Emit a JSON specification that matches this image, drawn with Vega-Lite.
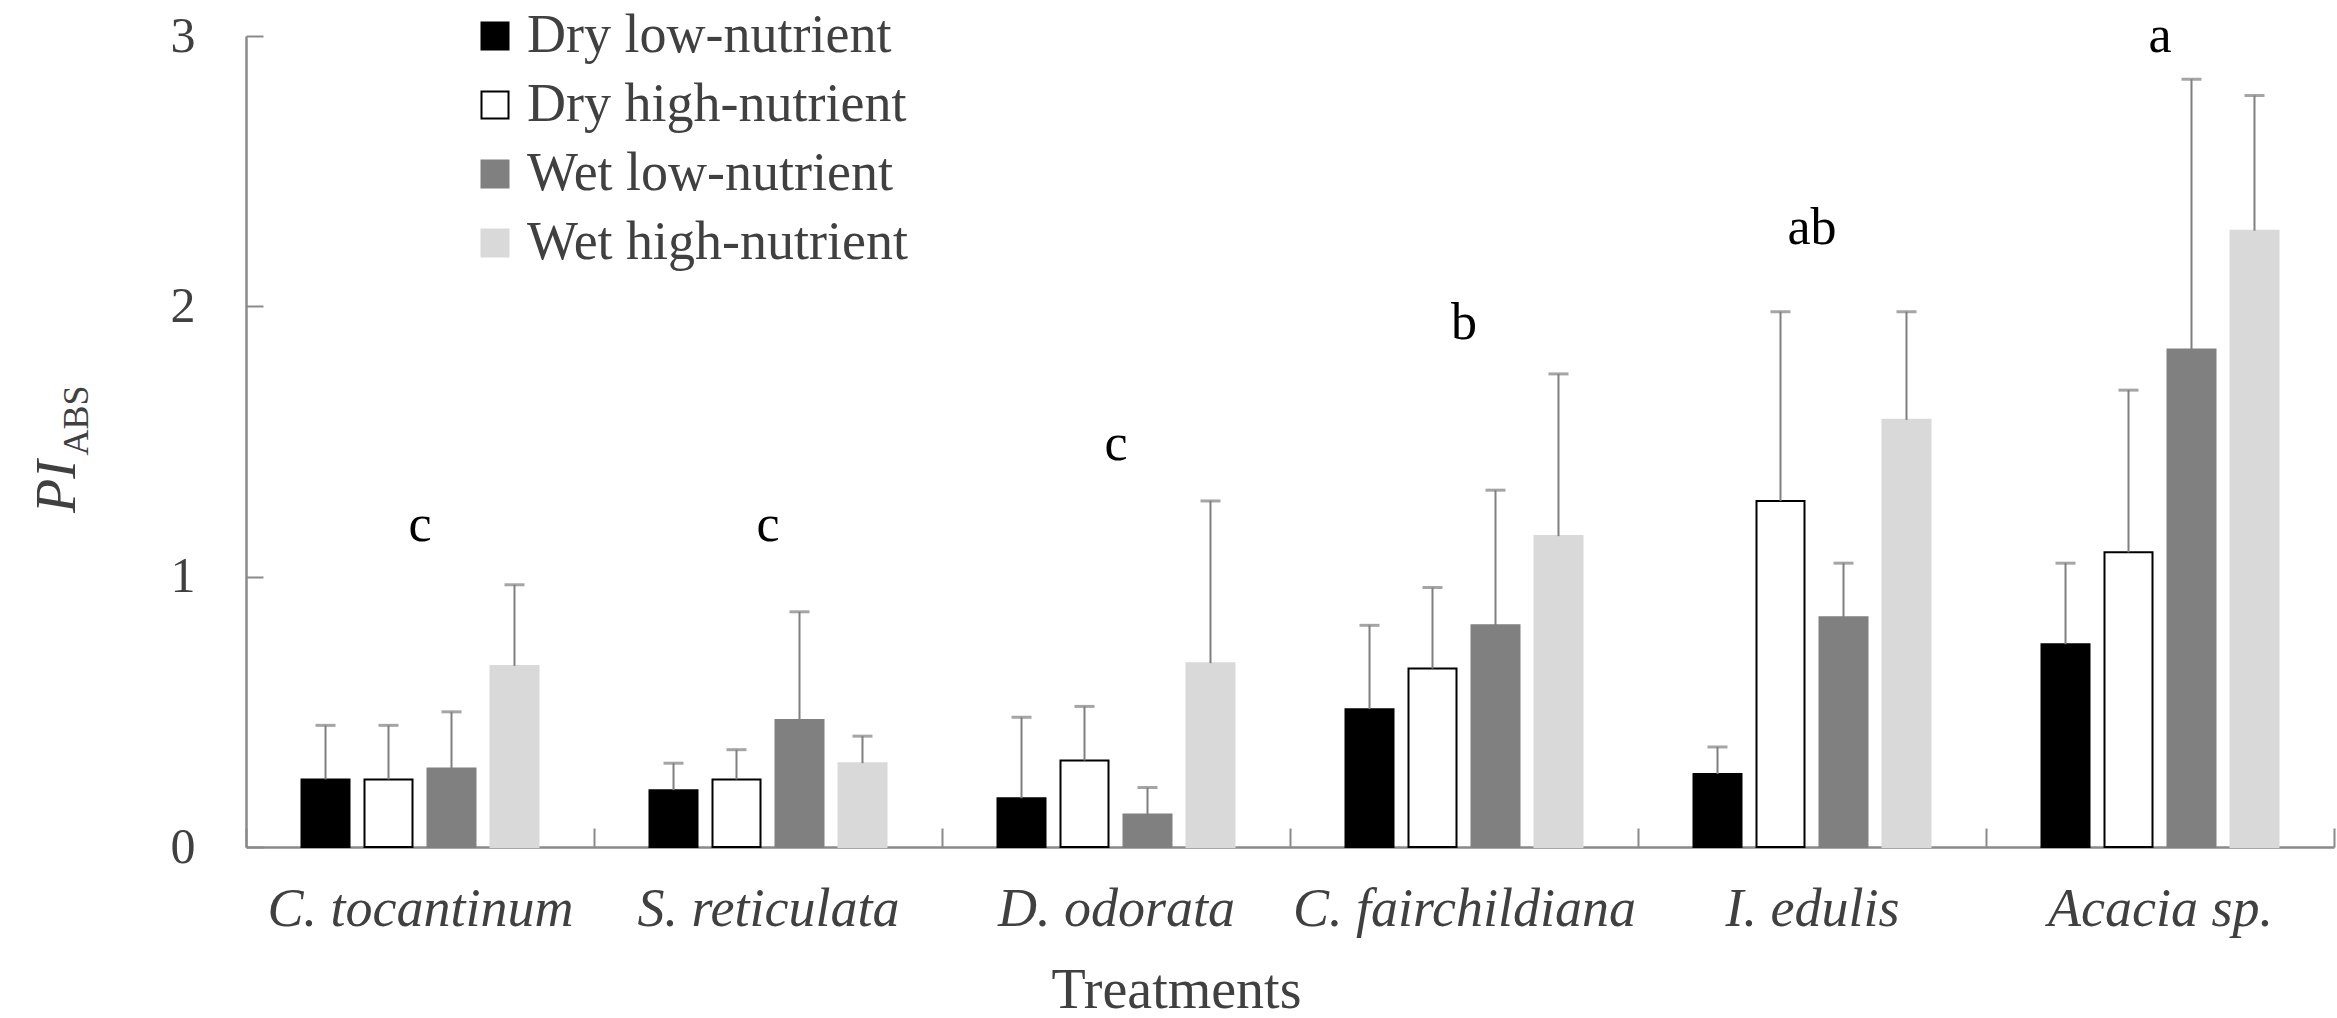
{
  "$schema": "https://vega.github.io/schema/vega-lite/v6.json",
  "width": 2088,
  "height": 811,
  "autosize": {"type": "none"},
  "padding": {"left": 246, "top": 36, "right": 3, "bottom": 171},
  "background": "white",
  "config": {
    "view": {"stroke": null},
    "font": "Liberation Serif",
    "axis": {"grid": false, "domainColor": "#8a8a8a", "domainWidth": 2.5, "tickColor": "#8a8a8a", "tickWidth": 2, "labelFont": "Liberation Serif", "titleFont": "Liberation Serif", "labelColor": "#404040", "titleColor": "#404040", "titleFontWeight": "normal"}
  },
  "datasets": {
    "bars": [
      {"species": "C. tocantinum", "treatment": "Dry low-nutrient", "mean": 0.25, "upper": 0.45},
      {"species": "C. tocantinum", "treatment": "Dry high-nutrient", "mean": 0.25, "upper": 0.45},
      {"species": "C. tocantinum", "treatment": "Wet low-nutrient", "mean": 0.29, "upper": 0.50},
      {"species": "C. tocantinum", "treatment": "Wet high-nutrient", "mean": 0.67, "upper": 0.97},
      {"species": "S. reticulata", "treatment": "Dry low-nutrient", "mean": 0.21, "upper": 0.31},
      {"species": "S. reticulata", "treatment": "Dry high-nutrient", "mean": 0.25, "upper": 0.36},
      {"species": "S. reticulata", "treatment": "Wet low-nutrient", "mean": 0.47, "upper": 0.87},
      {"species": "S. reticulata", "treatment": "Wet high-nutrient", "mean": 0.31, "upper": 0.41},
      {"species": "D. odorata", "treatment": "Dry low-nutrient", "mean": 0.18, "upper": 0.48},
      {"species": "D. odorata", "treatment": "Dry high-nutrient", "mean": 0.32, "upper": 0.52},
      {"species": "D. odorata", "treatment": "Wet low-nutrient", "mean": 0.12, "upper": 0.22},
      {"species": "D. odorata", "treatment": "Wet high-nutrient", "mean": 0.68, "upper": 1.28},
      {"species": "C. fairchildiana", "treatment": "Dry low-nutrient", "mean": 0.51, "upper": 0.82},
      {"species": "C. fairchildiana", "treatment": "Dry high-nutrient", "mean": 0.66, "upper": 0.96},
      {"species": "C. fairchildiana", "treatment": "Wet low-nutrient", "mean": 0.82, "upper": 1.32},
      {"species": "C. fairchildiana", "treatment": "Wet high-nutrient", "mean": 1.15, "upper": 1.75},
      {"species": "I. edulis", "treatment": "Dry low-nutrient", "mean": 0.27, "upper": 0.37},
      {"species": "I. edulis", "treatment": "Dry high-nutrient", "mean": 1.28, "upper": 1.98},
      {"species": "I. edulis", "treatment": "Wet low-nutrient", "mean": 0.85, "upper": 1.05},
      {"species": "I. edulis", "treatment": "Wet high-nutrient", "mean": 1.58, "upper": 1.98},
      {"species": "Acacia sp.", "treatment": "Dry low-nutrient", "mean": 0.75, "upper": 1.05},
      {"species": "Acacia sp.", "treatment": "Dry high-nutrient", "mean": 1.09, "upper": 1.69},
      {"species": "Acacia sp.", "treatment": "Wet low-nutrient", "mean": 1.84, "upper": 2.84},
      {"species": "Acacia sp.", "treatment": "Wet high-nutrient", "mean": 2.28, "upper": 2.78}
    ],
    "letters": [
      {"species": "C. tocantinum", "letter": "c", "pos": 1.19},
      {"species": "S. reticulata", "letter": "c", "pos": 1.19},
      {"species": "D. odorata", "letter": "c", "pos": 1.49},
      {"species": "C. fairchildiana", "letter": "b", "pos": 1.94},
      {"species": "I. edulis", "letter": "ab", "pos": 2.29},
      {"species": "Acacia sp.", "letter": "a", "pos": 3.0}
    ]
  },
  "layer": [
    {
      "data": {"name": "bars"},
      "mark": {"type": "bar", "strokeWidth": 2},
      "encoding": {
        "x": {
          "field": "species", "type": "nominal",
          "sort": ["C. tocantinum", "S. reticulata", "D. odorata", "C. fairchildiana", "I. edulis", "Acacia sp."],
          "scale": {"paddingInner": 0, "paddingOuter": 0},
          "axis": {"title": "Treatments", "titleFontSize": 56, "titleX": 930, "titleY": 160, "titleBaseline": "alphabetic", "titleAlign": "center", "labelAngle": 0, "labelFontSize": 54, "labelFontStyle": "italic", "labelBaseline": "alphabetic", "labelLimit": 0, "tickSize": -19, "labelPadding": 97, "tickBand": "extent"}
        },
        "xOffset": {
          "field": "treatment", "type": "nominal",
          "sort": ["Dry low-nutrient", "Dry high-nutrient", "Wet low-nutrient", "Wet high-nutrient"],
          "scale": {"paddingInner": 0.238, "paddingOuter": 0.881}
        },
        "y": {
          "field": "mean", "type": "quantitative",
          "scale": {"domain": [0, 3], "nice": false},
          "axis": {"orient": "left", "title": "PI", "titleFontStyle": "italic", "titleFontSize": 56, "titleX": -189, "titleY": 450, "titleAngle": 270, "titleAlign": "center", "titleBaseline": "middle", "values": [0, 1, 2, 3], "format": "d", "labelFontSize": 50, "tickSize": -17, "labelPadding": 68}
        },
        "fill": {
          "field": "treatment", "type": "nominal",
          "scale": {"domain": ["Dry low-nutrient", "Dry high-nutrient", "Wet low-nutrient", "Wet high-nutrient"], "range": ["#000000", "#ffffff", "#808080", "#d9d9d9"]},
          "legend": {"orient": "none", "legendX": 222, "legendY": -27, "title": null, "direction": "vertical", "symbolType": "square", "symbolSize": 729, "symbolStrokeWidth": 2, "labelFontSize": 54, "labelFont": "Liberation Serif", "labelColor": "#404040", "rowPadding": 15, "labelOffset": 5, "padding": 0, "labelLimit": 0}
        },
        "stroke": {
          "field": "treatment", "type": "nominal",
          "scale": {"domain": ["Dry low-nutrient", "Dry high-nutrient", "Wet low-nutrient", "Wet high-nutrient"], "range": ["#000000", "#000000", "#808080", "#d9d9d9"]},
          "legend": {"orient": "none", "legendX": 222, "legendY": -27, "title": null, "direction": "vertical", "symbolType": "square", "symbolSize": 729, "symbolStrokeWidth": 2, "labelFontSize": 54, "labelFont": "Liberation Serif", "labelColor": "#404040", "rowPadding": 15, "labelOffset": 5, "padding": 0, "labelLimit": 0}
        }
      }
    },
    {
      "data": {"name": "bars"},
      "mark": {"type": "rule", "color": "#7f7f7f", "strokeWidth": 2},
      "encoding": {
        "x": {"field": "species", "type": "nominal", "sort": ["C. tocantinum", "S. reticulata", "D. odorata", "C. fairchildiana", "I. edulis", "Acacia sp."], "title": "Treatments"},
        "xOffset": {"field": "treatment", "type": "nominal", "sort": ["Dry low-nutrient", "Dry high-nutrient", "Wet low-nutrient", "Wet high-nutrient"]},
        "y": {
          "field": "mean", "type": "quantitative",
          "scale": {"domain": [0, 3], "nice": false},
          "axis": {"orient": "left", "title": "ABS", "titleFontSize": 36, "titleX": -170, "titleY": 384, "titleAngle": 270, "titleAlign": "center", "titleBaseline": "middle", "labels": false, "ticks": false, "domain": false, "grid": false}
        },
        "y2": {"field": "upper"}
      }
    },
    {
      "data": {"name": "bars"},
      "mark": {"type": "tick", "orient": "horizontal", "color": "#7f7f7f", "thickness": 3, "size": 20},
      "encoding": {
        "x": {"field": "species", "type": "nominal", "sort": ["C. tocantinum", "S. reticulata", "D. odorata", "C. fairchildiana", "I. edulis", "Acacia sp."], "title": "Treatments"},
        "xOffset": {"field": "treatment", "type": "nominal", "sort": ["Dry low-nutrient", "Dry high-nutrient", "Wet low-nutrient", "Wet high-nutrient"]},
        "y": {"field": "upper", "type": "quantitative", "scale": {"domain": [0, 3], "nice": false}, "axis": null}
      }
    },
    {
      "data": {"name": "letters"},
      "mark": {"type": "text", "fontSize": 52, "font": "Liberation Serif", "color": "#000000", "baseline": "middle", "align": "center"},
      "encoding": {
        "x": {"field": "species", "type": "nominal", "sort": ["C. tocantinum", "S. reticulata", "D. odorata", "C. fairchildiana", "I. edulis", "Acacia sp."], "title": "Treatments"},
        "y": {"field": "pos", "type": "quantitative", "scale": {"domain": [0, 3], "nice": false}, "axis": null},
        "text": {"field": "letter"}
      }
    }
  ],
  "resolve": {"axis": {"y": "independent"}}
}
